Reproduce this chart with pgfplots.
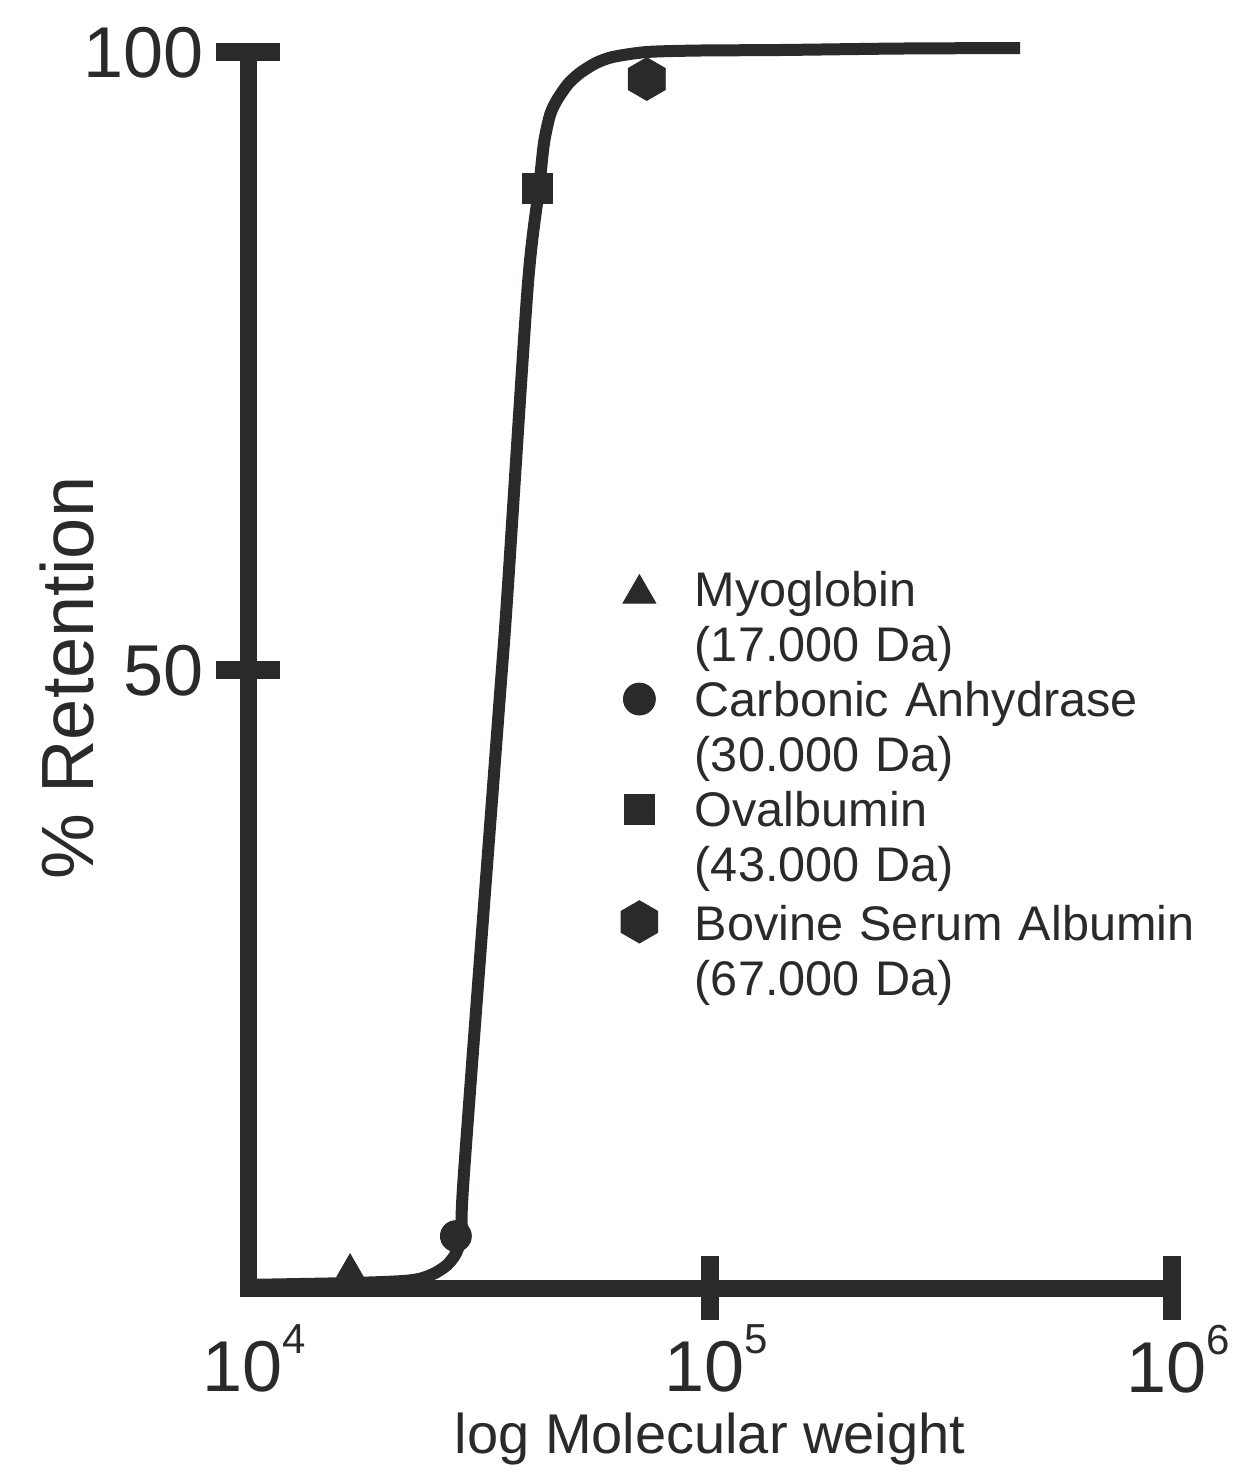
\documentclass[border=0pt]{standalone}
\usepackage{pgfplots}
\pgfplotsset{compat=1.18}
\usepackage{fontspec}
\setmainfont{Liberation Sans}
\definecolor{dk}{RGB}{43,42,41}

\pgfdeclareplotmark{hexagon*}{%
  \pgfpathmoveto{\pgfpointpolar{90}{\pgfplotmarksize}}%
  \pgfpathlineto{\pgfpointpolar{150}{\pgfplotmarksize}}%
  \pgfpathlineto{\pgfpointpolar{210}{\pgfplotmarksize}}%
  \pgfpathlineto{\pgfpointpolar{270}{\pgfplotmarksize}}%
  \pgfpathlineto{\pgfpointpolar{330}{\pgfplotmarksize}}%
  \pgfpathlineto{\pgfpointpolar{30}{\pgfplotmarksize}}%
  \pgfpathclose
  \pgfusepathqfillstroke}

\pgfplotsset{
  leg/.style 2 args={legend image code/.code={\path (0pt,0pt) (20pt,0pt); \draw[##1, mark size=#1] plot coordinates {(10pt,#2)};}}
}

\newcommand{\tl}[1]{10\raisebox{19pt}{\fontsize{21}{21}\selectfont #1}}

\begin{document}
\begin{tikzpicture}
\path[use as bounding box] (-124pt,-97pt) rectangle (495pt,644pt);
\begin{axis}[
  at={(0,0)}, anchor=south west,
  scale only axis, width=462pt, height=617.75pt,
  xmode=log, xmin=1e4, xmax=1e6, ymin=0, ymax=100,
  clip=false,
  axis x line=bottom, axis y line=left,
  every non boxed x axis/.append style={x axis line style=-},
  every non boxed y axis/.append style={y axis line style=-},
  axis line style={-, line width=8.5pt, draw=dk, line cap=rect},
  tick align=center,
  major tick length=32.5pt,
  tick style={line width=9pt, draw=dk, line cap=butt},
  xminorticks=false,
  xtick={1e5,1e6},
  xticklabels={\tl{5},\tl{6}},
  extra x ticks={1e4},
  extra x tick labels={\tl{4}},
  extra x tick style={tick style={draw=none}},
  ytick={50,100},
  yticklabels={50,100},
  xticklabel style={font=\fontsize{36}{36}\selectfont, text=dk, inner sep=0pt, anchor=north, yshift=-2pt, xshift=3pt},
  yticklabel style={font=\fontsize{36}{36}\selectfont, text=dk, inner sep=0pt, anchor=east, xshift=-6pt},
  xlabel={log Molecular weight},
  ylabel={\% Retention},
  xlabel style={font=\fontsize{28}{28}\selectfont, text=dk, at={(axis description cs:0.5,0)}, anchor=base, yshift=-82.5pt},
  ylabel style={font=\fontsize{37}{37}\selectfont, text=dk, at={([xshift=-77.5pt,yshift=-4pt]axis description cs:0,0.5)}, anchor=base},
  legend style={at={(rel axis cs:0.4015,0.5806)}, anchor=north west, draw=none, fill=none,
    inner sep=0pt, outer sep=0pt, column sep=17.5pt, row sep=0pt,
    font=\fontsize{24.3}{27.5}\selectfont,
    nodes={inner sep=0pt, text=dk, text height=18pt, text depth=37pt, align=left, text width=280pt},
    cells={anchor=base west}},
]
\addplot[forget plot, dk, line width=6pt, smooth, tension=0.45, line join=round] coordinates {
(10000,0.25) (16630,0.4) (21330,0.55) (23570,0.75) (25400,1.21) (26960,1.86)
(28060,2.67) (28770,3.64) (29200,4.69) (29270,8.74) (34770,45.97) (36360,55.69)
(40300,81.0) (42650,89.03) (43720,92.68) (45050,94.94) (46650,96.16)
(49280,97.45) (52310,98.34) (56650,99.15) (61660,99.64) (73050,100.04) (95150,100.16)
(141800,100.2) (257800,100.32) (468800,100.36)
};
\addplot[only marks, mark=triangle*, mark size=7.8pt, dk, mark options={fill=dk, draw=dk, line width=0.4pt},
  leg={9.5pt}{6.5pt}]
  coordinates {(16630,1.5)};
\addlegendentry{Myoglobin\\(17.000 Da)}
\addplot[only marks, mark=*, mark size=7.75pt, dk, mark options={fill=dk, draw=dk, line width=0.4pt},
  leg={8pt}{8.8pt}]
  coordinates {(28180,4.2)};
\addlegendentry{Carbonic Anhydrase\\(30.000 Da)}
\addplot[only marks, mark=square*, mark size=7.5pt, dk, mark options={fill=dk, draw=dk, line width=0.4pt},
  leg={7.5pt}{8.8pt}]
  coordinates {(42390,89.0)};
\addlegendentry{Ovalbumin\\(43.000 Da)}
\addplot[only marks, mark=hexagon*, mark size=10.7pt, dk, mark options={fill=dk, draw=dk, line width=0.4pt},
  leg={10.6pt}{9.3pt}]
  coordinates {(72950,97.85)};
\addlegendentry{Bovine Serum Albumin\\(67.000 Da)}
\end{axis}
\end{tikzpicture}
\end{document}
